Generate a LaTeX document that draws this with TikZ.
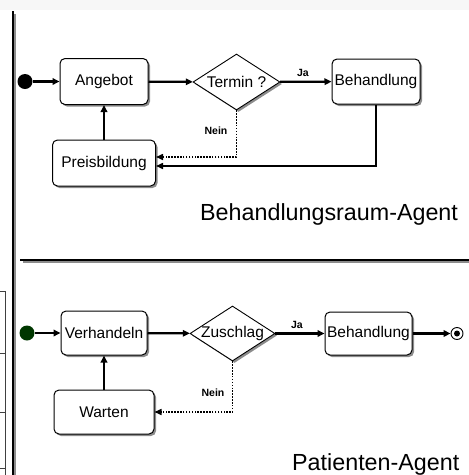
\documentclass[tikz,border=0pt]{standalone}
\usepackage{fontspec}
\setmainfont{Liberation Sans}
\usetikzlibrary{shapes.geometric,arrows.meta,shadows}
\definecolor{startgreen}{RGB}{0,55,0}

\begin{document}
\begin{tikzpicture}[x=1pt,y=-1pt,
  every node/.style={font=\fontsize{15.5}{18}\selectfont},
  state/.style={draw,line width=1pt,rounded corners=5pt,fill=white,inner sep=0pt,
    drop shadow={shadow xshift=2pt,shadow yshift=-2pt,fill=black!45,opacity=1}},
  choice/.style={diamond,draw,line width=0.9pt,fill=white,inner sep=0pt,
    minimum width=87pt,minimum height=56pt,
    drop shadow={shadow xshift=2pt,shadow yshift=-2pt,fill=black!45,opacity=1}},
  startdot/.style={circle,fill=#1,inner sep=0pt,minimum size=15pt},
  flow/.style={line width=2.2pt,-{Triangle[length=7pt,width=6.5pt]}},
  back/.style={line width=1.5pt,-{Triangle[length=7pt,width=6pt]}},
  noflow/.style={line width=1.5pt,dash pattern=on 1.5pt off 1.4pt,-{Triangle[length=7pt,width=6pt]}},
  guard/.style={font=\bfseries\fontsize{10.5}{12}\selectfont,inner sep=0pt},
  title/.style={font=\fontsize{23.3}{26}\selectfont,inner sep=0pt},
]
\useasboundingbox (0,0) rectangle (469,475);
\fill[black!3] (0,0) rectangle (469,10);

% swimlane borders
\draw[line width=2pt,black!45] (15,14) -- (15,475);
\draw[line width=1.8pt] (12.8,11) -- (12.8,475);
\draw[line width=2pt,black!45] (23,262.3) -- (469,262.3);
\draw[line width=1.8pt] (20,260.2) -- (469,260.2);

% neighbouring table edge
\draw[line width=0.8pt,black!75] (0,291) -- (5,291) -- (5,475);
\foreach \yy in {353,412,468} \draw[line width=0.8pt,black!75] (0,\yy) -- (5,\yy);

% ---- Behandlungsraum-Agent ----
\node[startdot=black] (s1) at (25,81.5) {};
\node[state,minimum width=88pt,minimum height=46pt] (angebot) at (104,81.5) {Angebot};
\node[choice] (termin) at (236.5,82) {\makebox[0pt]{Termin ?}};
\node[state,minimum width=88pt,minimum height=45pt] (beh1) at (376,81.5) {Behandlung};
\node[state,minimum width=103pt,minimum height=46pt] (preis) at (104,163) {Preisbildung};

\draw[flow] (s1) -- (angebot);
\draw[flow] (angebot) -- (termin);
\draw[flow] (termin) -- node[guard,above=4pt,xshift=-3pt] {Ja} (beh1);
\draw[noflow] (termin.south) |- ([yshift=6pt]preis.east);
\draw[back] (beh1.south) |- ([yshift=-3pt]preis.east);
\draw[flow] (preis) -- (angebot);
\node[guard] (nein1) at (216,131) {Nein};
\node[title,anchor=base west] (lab1) at (200,220) {Behandlungsraum-Agent};

% ---- Patienten-Agent ----
\node[startdot=startgreen] (s2) at (27,333) {};
\node[state,minimum width=86pt,minimum height=44pt] (verh) at (104,333) {Verhandeln};
\node[choice,minimum width=85pt,minimum height=55pt] (zuschlag) at (232.5,333.5) {\makebox[0pt]{Zuschlag}};
\node[state,minimum width=87pt,minimum height=43pt] (beh2) at (368.5,333.5) {Behandlung};
\node[state,minimum width=100pt,minimum height=44pt] (warten) at (104,412) {Warten};
\node[circle,draw,line width=0.9pt,minimum size=12pt,inner sep=0pt] (end) at (457,333.5) {};
\fill (end.center) circle (3pt);

\draw[flow] (s2) -- (verh);
\draw[flow] (verh) -- (zuschlag);
\draw[flow] (zuschlag) -- node[guard,above=4pt,xshift=-3pt] {Ja} (beh2);
\draw[flow] (beh2) -- (end);
\draw[noflow] (zuschlag.south) |- (warten.east);
\draw[flow] (warten) -- (verh);
\node[guard] (nein2) at (213,393) {Nein};
\node[title,anchor=base west] (lab2) at (292,470) {Patienten-Agent};
\end{tikzpicture}
\end{document}
